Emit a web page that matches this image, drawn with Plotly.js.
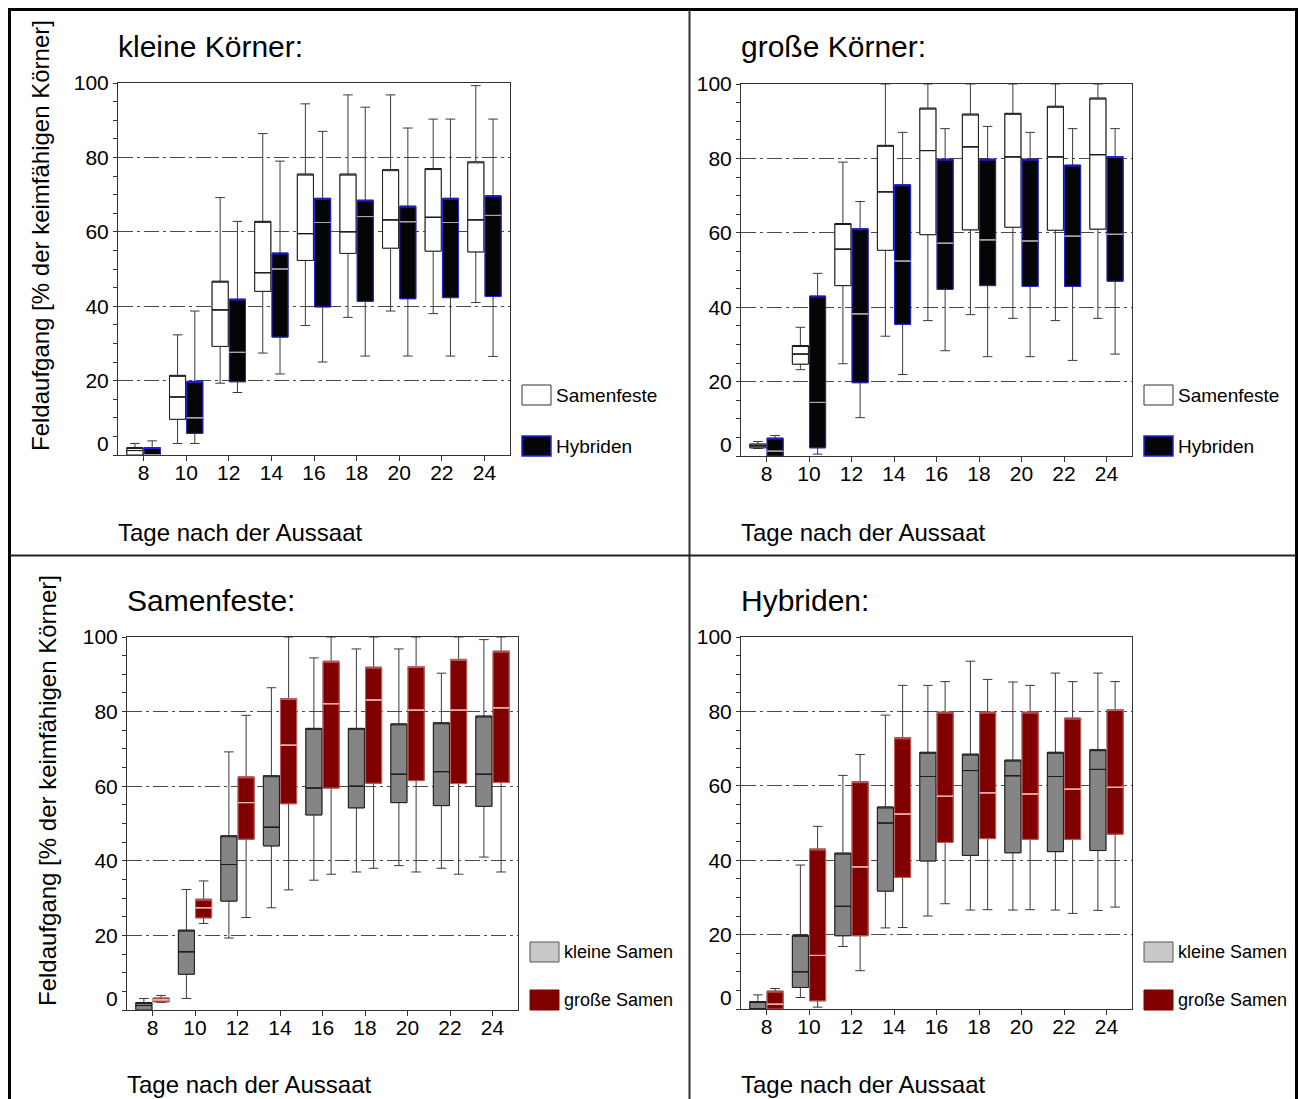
<!DOCTYPE html>
<html>
<head>
<meta charset="utf-8">
<script src="https://cdn.plot.ly/plotly-3.0.1.min.js"></script>
<style>html,body{margin:0;padding:0;background:#fff;}#chart{width:1300px;height:1099px;}</style>
</head>
<body>
<div id="chart"></div>
<script>
// ---- data: days after sowing ----
const days = [8, 10, 12, 14, 16, 18, 20, 22, 24];
const dayLabels = ["8", "10", "12", "14", "16", "18", "20", "22", "24"];
const yTickVals = [0, 20, 40, 60, 80, 100];
const yTickText = ["", "20", "40", "60", "80", "100"];

// kleine Körner, Samenfeste
const kS_min = [0, 3.1, 19.3, 27.4, 34.8, 37.0, 38.7, 38.0, 41.0];
const kS_q1  = [0, 9.6, 29.2, 44.0, 52.3, 54.2, 55.6, 54.8, 54.6];
const kS_med = [1.2, 15.6, 39.0, 49.0, 59.5, 60.0, 63.2, 63.9, 63.2];
const kS_q3  = [2.0, 21.4, 46.7, 62.8, 75.5, 75.5, 76.7, 77.0, 78.8];
const kS_max = [3.1, 32.3, 69.2, 86.4, 94.4, 96.8, 96.8, 90.3, 99.3];

// kleine Körner, Hybriden
const kH_min = [0, 3.1, 16.8, 21.8, 25.0, 26.6, 26.6, 26.6, 26.5];
const kH_q1  = [0, 5.8, 19.7, 31.7, 39.8, 41.3, 42.0, 42.3, 42.6];
const kH_med = [0, 10.0, 27.6, 50.0, 62.5, 64.1, 62.7, 62.5, 64.4];
const kH_q3  = [2.0, 19.8, 41.9, 54.3, 69.0, 68.5, 66.9, 69.0, 69.7];
const kH_max = [3.8, 38.7, 62.8, 79.0, 87.0, 93.5, 87.9, 90.3, 90.3];

// große Körner, Samenfeste
const gS_min = [2.0, 23.2, 24.8, 32.2, 36.4, 38.0, 37.0, 36.4, 37.0];
const gS_q1  = [2.2, 24.7, 45.8, 55.3, 59.5, 60.8, 61.5, 60.7, 61.0];
const gS_med = [2.7, 27.4, 55.6, 71.0, 82.1, 83.1, 80.4, 80.4, 81.0];
const gS_q3  = [3.2, 29.7, 62.5, 83.5, 93.5, 91.9, 92.1, 94.0, 96.2];
const gS_max = [3.9, 34.6, 79.0, 100, 100, 100, 100, 100, 100];

// große Körner, Hybriden
const gH_min = [0, 0.5, 10.3, 21.9, 28.3, 26.7, 26.7, 25.7, 27.4];
const gH_q1  = [0, 2.2, 19.7, 35.4, 44.8, 45.8, 45.6, 45.6, 47.0];
const gH_med = [1.3, 14.4, 38.2, 52.4, 57.2, 58.1, 57.8, 59.1, 59.6];
const gH_q3  = [4.8, 43.0, 61.1, 72.9, 79.8, 79.8, 79.8, 78.2, 80.5];
const gH_max = [5.5, 49.1, 68.4, 87.0, 88.0, 88.6, 87.0, 88.0, 88.0];

// ---- text ----
const panelTitles = ["kleine Körner:", "große Körner:", "Samenfeste:", "Hybriden:"];
const xTitle = "Tage nach der Aussaat";
const yTitle = "Feldaufgang [% der keimfähigen Körner]";
const legendA = ["Samenfeste", "Hybriden"];
const legendB = ["kleine Samen", "große Samen"];

// ---- layout helpers ----
const W = 1300, H = 1099;
const px = x => x / W;
const py = y => 1 - y / H;
const FONT = "Arial, 'Liberation Sans', sans-serif";

const panels = [
  {ax: "", box: [118, 510, 83, 455]},
  {ax: "2", box: [741, 1132, 84, 456]},
  {ax: "3", box: [127, 518, 637, 1010]},
  {ax: "4", box: [741, 1132, 637, 1009]}
];

const st = {
  white: {fill: "#ffffff", outline: "#1a1a1a", median: "#1a1a1a", whisker: "#3a3a3a"},
  black: {fill: "#050505", outline: "#2222ee", median: "#a8a8a8", whisker: "#3a3a3a"},
  gray:  {fill: "#858585", outline: "#1e1e1e", median: "#1e1e1e", whisker: "#3a3a3a"},
  red:   {fill: "#800000", outline: "#c86060", median: "#f0b8b8", whisker: "#3a3a3a"}
};

const base = [], over = [], meds = [];
function addSeries(s, pi, group, style) {
  const ax = panels[pi].ax;
  const common = {
    type: "box", x: days, xaxis: "x" + ax, yaxis: "y" + ax,
    offsetgroup: group, alignmentgroup: "p" + pi,
    boxpoints: false, hoverinfo: "skip", showlegend: false
  };
  base.push(Object.assign({}, common, {
    q1: s.q1, median: s.med, q3: s.q3, lowerfence: s.min, upperfence: s.max,
    fillcolor: style.fill, line: {color: style.whisker, width: 1}, whiskerwidth: 0.6
  }));
  over.push(Object.assign({}, common, {
    q1: s.q1, median: s.q3, q3: s.q3, lowerfence: s.q1, upperfence: s.q3,
    fillcolor: style.fill, line: {color: style.outline, width: 1}, whiskerwidth: 0
  }));
  meds.push(Object.assign({}, common, {
    q1: s.med, median: s.med, q3: s.med, lowerfence: s.med, upperfence: s.med,
    fillcolor: "rgba(0,0,0,0)", line: {color: style.median, width: 1}, whiskerwidth: 0
  }));
}
const kS = {min: kS_min, q1: kS_q1, med: kS_med, q3: kS_q3, max: kS_max};
const kH = {min: kH_min, q1: kH_q1, med: kH_med, q3: kH_q3, max: kH_max};
const gS = {min: gS_min, q1: gS_q1, med: gS_med, q3: gS_q3, max: gS_max};
const gH = {min: gH_min, q1: gH_q1, med: gH_med, q3: gH_q3, max: gH_max};

addSeries(kS, 0, "a", st.white); addSeries(kH, 0, "b", st.black);
addSeries(gS, 1, "a", st.white); addSeries(gH, 1, "b", st.black);
addSeries(kS, 2, "a", st.gray);  addSeries(gS, 2, "b", st.red);
addSeries(kH, 3, "a", st.gray);  addSeries(gH, 3, "b", st.red);

const data = base.concat(over, meds);

const layout = {
  width: W, height: H,
  margin: {l: 0, r: 0, t: 0, b: 0},
  paper_bgcolor: "#ffffff", plot_bgcolor: "#ffffff",
  boxmode: "group", boxgap: 0.19, boxgroupgap: 0.07,
  font: {family: FONT, size: 21, color: "#000"},
  showlegend: false,
  shapes: [], annotations: []
};

panels.forEach((p, i) => {
  const [x0, x1, y0, y1] = p.box;
  layout["xaxis" + p.ax] = {
    domain: [px(x0), px(x1)], anchor: "y" + p.ax,
    range: [6.8, 25.2], tickvals: days, ticktext: dayLabels,
    ticks: "outside", ticklen: 5, tickcolor: "#333", tickfont: {size: 21, family: FONT},
    ticklabelstandoff: -6,
    showgrid: false, zeroline: false, showline: true, mirror: true, linecolor: "#333", linewidth: 1,
    fixedrange: true
  };
  layout["yaxis" + p.ax] = {
    domain: [py(y1), py(y0)], anchor: "x" + p.ax,
    range: [0, 100], tickvals: yTickVals, ticktext: yTickText,
    ticks: "outside", ticklen: 4, tickcolor: "#333", tickfont: {size: 21, family: FONT},
    minor: {dtick: 5, tick0: 0, ticks: "outside", ticklen: 4, tickcolor: "#333", showgrid: false},
    showgrid: true, gridcolor: "#4a4a4a", gridwidth: 1, griddash: "15px,4px,3px,4px",
    zeroline: false, showline: true, mirror: true, linecolor: "#333", linewidth: 1,
    fixedrange: true
  };
  // panel title
  layout.annotations.push({xref: "paper", yref: "paper", x: px(x0 - 2), y: py(i < 2 ? 46 : 600),
    xanchor: "left", yanchor: "middle", text: panelTitles[i], showarrow: false,
    font: {size: 30, family: FONT, color: "#000"}});
  // x title
  layout.annotations.push({xref: "paper", yref: "paper", x: px(x0 - 2), y: py(i < 2 ? 532 : 1084),
    xanchor: "left", yanchor: "middle", text: xTitle, showarrow: false,
    font: {size: 24, family: FONT, color: "#000"}});
  // "0" tick label drawn slightly above the axis bottom, as in the original
  layout.annotations.push({xref: "paper", yref: "y" + p.ax, x: px(x0 - 7), y: 3.2,
    xanchor: "right", yanchor: "middle", text: "0", showarrow: false,
    font: {size: 21, family: FONT, color: "#000"}});
  // legend
  const lx = x1 + 12;
  const isA = i < 2;
  const names = isA ? legendA : legendB;
  const ly = isA ? [395, 446] : [952, 1000];
  const sw = isA
    ? [{fill: "#ffffff", line: "#333", lw: 1}, {fill: "#050505", line: "#2222ee", lw: 1.5}]
    : [{fill: "#c8c8c8", line: "#555", lw: 1}, {fill: "#800000", line: "#800000", lw: 1}];
  for (let k = 0; k < 2; k++) {
    layout.shapes.push({type: "rect", xref: "paper", yref: "paper",
      x0: px(lx), x1: px(lx + 29), y0: py(ly[k] - 10), y1: py(ly[k] + 10),
      fillcolor: sw[k].fill, line: {color: sw[k].line, width: sw[k].lw}});
    layout.annotations.push({xref: "paper", yref: "paper", x: px(lx + 32), y: py(ly[k]),
      xanchor: "left", yanchor: "middle", text: names[k], showarrow: false,
      font: {size: isA ? 19 : 18, family: FONT, color: "#000"}});
  }
});

// y-axis titles (left panels only)
layout.annotations.push({xref: "paper", yref: "paper", x: px(40), y: py(236), textangle: -90,
  xanchor: "center", yanchor: "middle", text: yTitle, showarrow: false,
  font: {size: 24, family: FONT, color: "#000"}});
layout.annotations.push({xref: "paper", yref: "paper", x: px(47), y: py(791), textangle: -90,
  xanchor: "center", yanchor: "middle", text: yTitle, showarrow: false,
  font: {size: 24, family: FONT, color: "#000"}});

// frame and panel dividers
layout.shapes.push({type: "rect", xref: "paper", yref: "paper", x0: px(9.5), x1: px(1296.5), y0: py(1110), y1: py(9.5),
  line: {color: "#000", width: 3}, fillcolor: "rgba(0,0,0,0)"});
layout.shapes.push({type: "line", xref: "paper", yref: "paper", x0: px(689.5), x1: px(689.5), y0: py(10), y1: py(1110),
  line: {color: "#333", width: 2}});
layout.shapes.push({type: "line", xref: "paper", yref: "paper", x0: px(10), x1: px(1296), y0: py(555.5), y1: py(555.5),
  line: {color: "#222", width: 2}});

Plotly.newPlot("chart", data, layout, {staticPlot: true, displayModeBar: false});
</script>
</body>
</html>
